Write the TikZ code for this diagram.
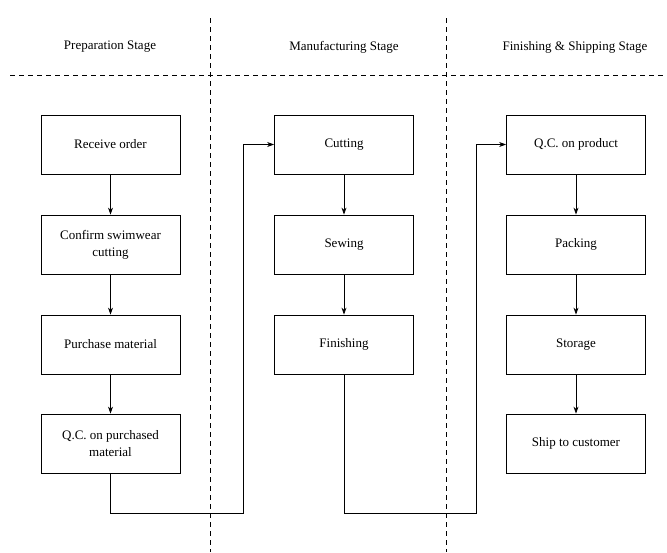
\documentclass[tikz,border=0pt]{standalone}
\usepackage{fontspec}
\setmainfont{Liberation Serif}
\usetikzlibrary{arrows.meta}
\begin{document}
\begin{tikzpicture}[x=1pt,y=-1pt,
  box/.style={draw,line width=0.8pt,minimum width=139pt,minimum height=59pt,inner sep=0pt,align=center,font=\fontsize{13}{17}\selectfont},
  hdr/.style={font=\fontsize{13}{17}\selectfont},
  sep/.style={line width=0.7pt,dash pattern=on 5pt off 4pt},
  conn/.style={line width=0.8pt,-{Stealth[length=7pt,width=5pt]}},
  plain/.style={line width=0.8pt}]
\useasboundingbox (0,0) rectangle (667,552);
% separators
\draw[sep] (210,18) -- (210,552);
\draw[sep] (446,18) -- (446,552);
\draw[sep] (10,75) -- (667,75);
% headers
\node[hdr] (h1) at (110,47) {Preparation Stage};
\node[hdr] (h2) at (344,47) {Manufacturing Stage};
\node[hdr] (h3) at (575,47) {Finishing \& Shipping Stage};
% left column
\node[box] (a1) at (110.5,144.5) {Receive order};
\node[box] (a2) at (110.5,244.5) {Confirm swimwear\\cutting};
\node[box] (a3) at (110.5,344.5) {Purchase material};
\node[box] (a4) at (110.5,443.5) {Q.C. on purchased\\material};
% middle column
\node[box] (b1) at (344,144.5) {Cutting};
\node[box] (b2) at (344,244.5) {Sewing};
\node[box] (b3) at (344,344.5) {Finishing};
% right column
\node[box] (c1) at (576,144.5) {Q.C. on product};
\node[box] (c2) at (576,244.5) {Packing};
\node[box] (c3) at (576,344.5) {Storage};
\node[box] (c4) at (576,443.5) {Ship to customer};
% arrows
\draw[conn] (a1) -- (a2);
\draw[conn] (a2) -- (a3);
\draw[conn] (a3) -- (a4);
\draw[conn] (b1) -- (b2);
\draw[conn] (b2) -- (b3);
\draw[conn] (c1) -- (c2);
\draw[conn] (c2) -- (c3);
\draw[conn] (c3) -- (c4);
\draw[conn] (a4.south) -- ++(0,40) -| (243,144.5) -- (b1.west);
\draw[conn] (b3.south) -- ++(0,139) -| (476,144.5) -- (c1.west);
\end{tikzpicture}
\end{document}
